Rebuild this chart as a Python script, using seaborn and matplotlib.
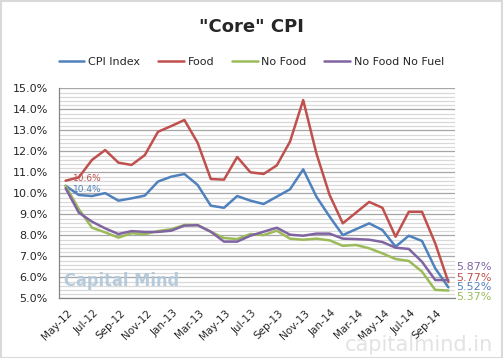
import numpy as np
import pandas as pd
import matplotlib
matplotlib.use("Agg")
import matplotlib.pyplot as plt
import matplotlib.ticker as mticker
import matplotlib.transforms as mtransforms
from matplotlib.patches import Rectangle
import seaborn as sns

months = ["May-12", "Jun-12", "Jul-12", "Aug-12", "Sep-12", "Oct-12", "Nov-12", "Dec-12",
          "Jan-13", "Feb-13", "Mar-13", "Apr-13", "May-13", "Jun-13", "Jul-13", "Aug-13",
          "Sep-13", "Oct-13", "Nov-13", "Dec-13", "Jan-14", "Feb-14", "Mar-14", "Apr-14",
          "May-14", "Jun-14", "Jul-14", "Aug-14", "Sep-14", "Oct-14"]
cpi = [10.36, 9.92, 9.87, 10.01, 9.65, 9.76, 9.89, 10.56, 10.79, 10.92, 10.40, 9.41, 9.31, 9.87, 9.65,
       9.49, 9.84, 10.19, 11.14, 9.84, 8.89, 8.01, 8.29, 8.57, 8.25, 7.46, 7.98, 7.73, 6.43, 5.52]
food = [10.60, 10.76, 11.59, 12.06, 11.46, 11.35, 11.82, 12.93, 13.20, 13.49, 12.41, 10.68, 10.65, 11.73, 11.00,
        10.92, 11.33, 12.46, 14.44, 11.90, 9.92, 8.57, 9.08, 9.59, 9.31, 7.93, 9.12, 9.12, 7.62, 5.77]
no_food = [10.35, 9.25, 8.36, 8.14, 7.89, 8.10, 8.05, 8.20, 8.29, 8.49, 8.49, 8.17, 7.87, 7.82, 8.06,
           8.01, 8.22, 7.84, 7.79, 7.84, 7.76, 7.50, 7.54, 7.38, 7.14, 6.87, 6.78, 6.27, 5.40, 5.37]
no_food_no_fuel = [10.24, 9.08, 8.65, 8.33, 8.06, 8.20, 8.16, 8.16, 8.22, 8.46, 8.48, 8.17, 7.70, 7.70, 7.98,
                   8.17, 8.36, 8.03, 7.98, 8.08, 8.08, 7.84, 7.82, 7.79, 7.68, 7.41, 7.35, 6.74, 5.87, 5.87]
series_names = ["CPI Index", "Food", "No Food", "No Food No Fuel"]
tick_labels = months[::2]

colors = {"CPI Index": "#4F81BD", "Food": "#C0504D", "No Food": "#9BBB59", "No Food No Fuel": "#8064A2"}

df = pd.DataFrame({
    "idx": list(range(len(months))) * 4,
    "value": cpi + food + no_food + no_food_no_fuel,
    "series": sum([[n] * len(months) for n in series_names], []),
})

sns.set_style("white")
plt.rcParams["font.family"] = ["DejaVu Sans"]

fig = plt.figure(figsize=(5.03, 3.58), dpi=100)
ax = fig.add_axes([59 / 503, 1 - 298.3 / 358, (455 - 59) / 503, (298.3 - 88.3) / 358])

sns.lineplot(data=df, x="idx", y="value", hue="series", hue_order=series_names,
             palette=colors, linewidth=1.8, ax=ax, legend=True)

ax.set_xlim(-0.5, len(months) - 0.5)
ax.set_ylim(5, 15)
ax.set_xlabel("")
ax.set_ylabel("")

# grid
ax.yaxis.set_major_locator(mticker.MultipleLocator(1))
ax.yaxis.set_minor_locator(mticker.MultipleLocator(0.2))
ax.yaxis.set_major_formatter(mticker.FuncFormatter(lambda v, p: f"{v:.1f}%"))
ax.grid(axis="y", which="major", color="#A6A6A6", linewidth=0.9)
ax.grid(axis="y", which="minor", color="#D9D9D9", linewidth=0.9)
ax.grid(axis="x", visible=False)
ax.set_axisbelow(True)

# x ticks between categories
xt = np.arange(-0.5, len(months) - 1, 2)
ax.set_xticks(list(xt) + [len(months) - 0.5])
ax.set_xticklabels(tick_labels + [""], rotation=45, ha="right", rotation_mode="anchor", fontsize=7.5)
ax.tick_params(axis="x", length=4, color="#868686", pad=3)
ax.tick_params(axis="y", which="major", length=4, color="#868686", labelsize=8, pad=4)
ax.tick_params(axis="y", which="minor", length=0)

offset = mtransforms.ScaledTranslation(8 / 100, 0, fig.dpi_scale_trans)
for lbl in ax.get_xticklabels():
    lbl.set_transform(lbl.get_transform() + offset)

for side in ["top", "right"]:
    ax.spines[side].set_visible(False)
for side in ["left", "bottom"]:
    ax.spines[side].set_color("#868686")
    ax.spines[side].set_linewidth(0.9)

# legend
handles, labels = ax.get_legend_handles_labels()
ax.legend(handles, labels, ncol=4, frameon=False, loc="center",
          bbox_to_anchor=(0.5, 1 - 62 / 358), bbox_transform=fig.transFigure,
          fontsize=8, handlelength=2.3, handletextpad=0.35, columnspacing=1.6)

# title
fig.text(0.5, 1 - 27 / 358, '"Core" CPI', ha="center", va="center", fontsize=13, fontweight="bold")

# data labels
last = len(months) - 1
ax.annotate(f"{food[0]:.1f}%", (0, food[0]), xytext=(7.5, 2.5), textcoords="offset pixels",
            color=colors["Food"], fontsize=6.5, va="center", ha="left")
ax.annotate(f"{cpi[0]:.1f}%", (0, cpi[0]), xytext=(7.5, -3.5), textcoords="offset pixels",
            color=colors["CPI Index"], fontsize=6.5, va="center", ha="left")
end_specs = [("No Food No Fuel", no_food_no_fuel, 13), ("Food", food, 4), ("CPI Index", cpi, 0.5), ("No Food", no_food, -6.7)]
for name, vals, dy in end_specs:
    ax.annotate(f"{vals[-1]:.2f}%", (last, vals[-1]), xytext=(8, dy), textcoords="offset pixels",
                color=colors[name], fontsize=8, va="center", ha="left", annotation_clip=False)

# watermarks
ax.text(0.012, 0.04, "Capital Mind", transform=ax.transAxes, fontsize=13, fontweight="bold",
        fontstretch="condensed", color="#AFC6D9", alpha=0.9, ha="left", va="bottom")
fig.text(493 / 503, 1 - 355 / 358, "capitalmind.in", ha="right", va="bottom", fontsize=15,
         color="#E3E3E3")

# figure border
fig.patches.append(Rectangle((0.001, 0.001), 0.997, 0.996, transform=fig.transFigure,
                             fill=False, edgecolor="#D9D9D9", linewidth=1.5))

fig.savefig("out.png", dpi=100)
